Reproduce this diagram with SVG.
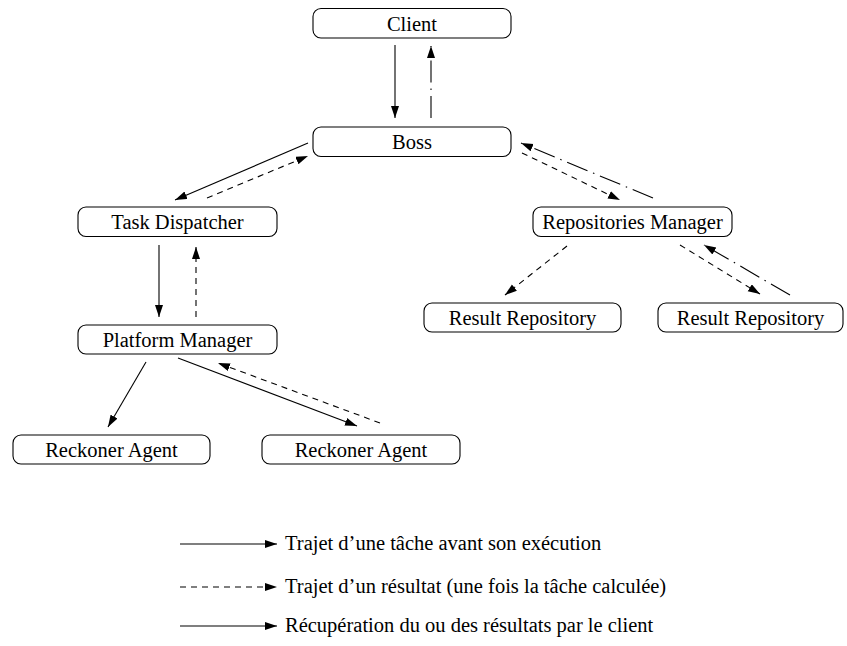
<svg xmlns="http://www.w3.org/2000/svg" width="847" height="646" viewBox="0 0 847 646">
  <style>
    .node rect { fill: #ffffff; stroke: #000000; stroke-width: 1.1; }
    .node text, .legend text { font-family: "Liberation Serif", "Times New Roman", serif; font-size: 20.5px; fill: #000000; }
    .node text { text-anchor: middle; }
    .edge { fill: none; stroke: #000000; stroke-width: 1.1; marker-end: url(#head); }
    .result { stroke-dasharray: 6 5; }
    .fetch { stroke-dasharray: 22 6 1.5 6; }
  </style>
  <defs>
    <marker id="head" markerUnits="userSpaceOnUse" markerWidth="14" markerHeight="9" refX="12" refY="4" orient="auto">
      <path d="M0,0 L12,4 L0,8 z" fill="#000000"/>
    </marker>
  </defs>
  <rect width="847" height="646" fill="#ffffff"/>

  <!-- nodes -->
  <g id="client" class="node"><rect x="313" y="8.5" width="198" height="29.5" rx="8"/><text x="412" y="30.5">Client</text></g>
  <g id="boss" class="node"><rect x="313" y="127" width="198" height="29.5" rx="8"/><text x="412" y="148.5">Boss</text></g>
  <g id="task-dispatcher" class="node"><rect x="78" y="207" width="199" height="29.5" rx="8"/><text x="177.5" y="228.5">Task Dispatcher</text></g>
  <g id="platform-manager" class="node"><rect x="78" y="325" width="199" height="29" rx="8"/><text x="177.5" y="346.5">Platform Manager</text></g>
  <g id="repositories-manager" class="node"><rect x="533" y="207" width="199" height="29.5" rx="8"/><text x="632.5" y="228.5">Repositories Manager</text></g>
  <g id="result-repository-1" class="node"><rect x="424" y="303" width="197" height="29" rx="8"/><text x="522.5" y="324.5">Result Repository</text></g>
  <g id="result-repository-2" class="node"><rect x="658" y="303" width="185" height="29" rx="8"/><text x="750.5" y="324.5">Result Repository</text></g>
  <g id="reckoner-agent-1" class="node"><rect x="13" y="435" width="197" height="29" rx="8"/><text x="111.5" y="456.5">Reckoner Agent</text></g>
  <g id="reckoner-agent-2" class="node"><rect x="262" y="435" width="198" height="29" rx="8"/><text x="361" y="456.5">Reckoner Agent</text></g>

  <!-- connectors -->
  <g id="connectors">
    <path class="edge task" d="M395,45 L395,118"/>
    <path class="edge fetch" d="M431,118 L431,46"/>
    <path class="edge task" d="M308,143 L175,200"/>
    <path class="edge result" d="M207,198 L308,156"/>
    <path class="edge task" d="M159,245 L159,317"/>
    <path class="edge result" d="M196,317 L196,247"/>
    <path class="edge result" d="M522,153 L620,200"/>
    <path class="edge fetch" d="M653,198 L521,143"/>
    <path class="edge result" d="M567,246 L505,295"/>
    <path class="edge result" d="M680,245 L760,294"/>
    <path class="edge fetch" d="M790,295 L704,245"/>
    <path class="edge task" d="M146,362 L108,427"/>
    <path class="edge task" d="M178,358 L357,426"/>
    <path class="edge result" d="M380,423 L218,363"/>
  </g>

  <!-- legend -->
  <g class="legend">
    <path class="edge task" d="M180,544 L277,544"/>
    <text x="285" y="550">Trajet d’une tâche avant son exécution</text>
    <path class="edge result" d="M180,587 L277,587"/>
    <text x="285" y="593">Trajet d’un résultat (une fois la tâche calculée)</text>
    <path class="edge task" d="M180,626 L277,626"/>
    <text x="285" y="632">Récupération du ou des résultats par le client</text>
  </g>
</svg>
